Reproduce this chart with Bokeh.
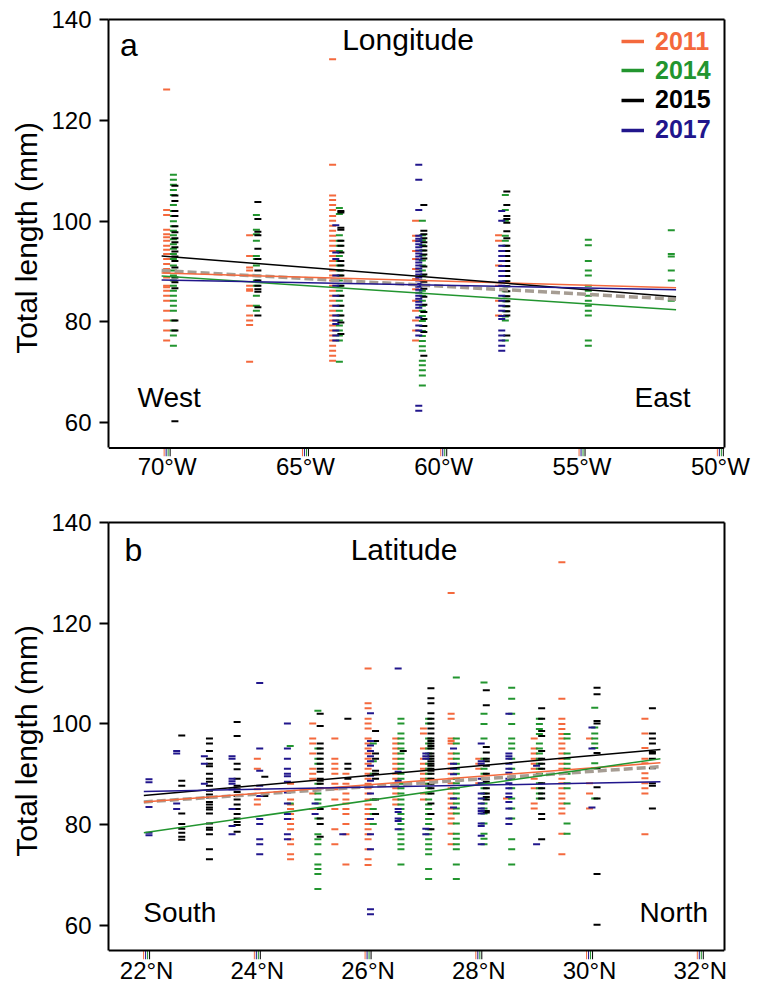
from bokeh.plotting import figure
from bokeh.models import (Range1d, LinearAxis, FixedTicker, Span, Label, Legend,
                          LegendItem, ColumnDataSource)
from bokeh.layouts import column
from bokeh.transform import dodge
from bokeh.embed import file_html
from bokeh.resources import INLINE

# ---------------------------------------------------------------- data
YEARS = ["2011", "2014", "2015", "2017"]
Y_TICKS = [60, 80, 100, 120, 140]
LON_TICKS = [-70, -65, -60, -55, -50]
LON_TICK_LABELS = ["70°W", "65°W", "60°W", "55°W", "50°W"]
LAT_TICKS = [22, 24, 26, 28, 30, 32]
LAT_TICK_LABELS = ["22°N", "24°N", "26°N", "28°N", "30°N", "32°N"]

# ---- panel a: total length by longitude (negative = °W)
LON_ST_2011 = [-70, -67, -64, -61, -58]
LON_TL_2011 = [
    [126.1, 102.2, 101.2, 98.3, 97.4, 96.8, 96.1, 95.1, 94.3, 93.5, 92.5, 91.5, 90.5, 89.8,
     88.8, 87.2, 86.9, 86.2, 85.2, 84.2, 82.2, 80.3, 78.3, 76.3],
    [97.2, 93.1, 90.8, 90.2, 89.2, 87.2, 86.5, 86.2, 83.2, 81.3, 80.3, 79.4, 72.1],
    [132.1, 111.2, 105.1, 104.2, 103.2, 102.2, 101.0, 100.1, 99.1, 98.1, 97.1, 96.1, 95.1,
     94.1, 93.1, 92.1, 91.2, 90.2, 89.2, 88.2, 87.2, 86.2, 85.2, 84.2, 83.2, 82.2, 81.3,
     80.3, 79.3, 78.3, 77.3, 76.3, 75.3, 74.3, 73.3, 72.3],
    [100.1, 97.1, 96.1, 94.1, 92.5, 90.5, 88.5, 86.5, 84.2, 82.2, 80.3, 78.3, 76.3],
    [97.2, 96.1, 91.2, 87.2, 84.2, 81.3],
]
LON_ST_2014 = [-70, -67, -64, -61, -58, -55, -52]
LON_TL_2014 = [
    [109.2, 108.2, 107.2, 106.2, 105.2, 103.2, 102.0, 101.0, 100.0, 99.0, 98.1, 97.2, 96.4,
     95.4, 94.5, 93.5, 92.5, 91.2, 90.2, 89.2, 88.2, 87.2, 86.2, 85.2, 84.2, 83.2, 82.2,
     80.3, 78.3, 77.3, 75.3],
    [101.2, 98.3, 97.4, 96.1, 93.1, 92.5, 91.2, 89.2, 88.2, 87.2, 85.2, 83.2, 82.2],
    [102.6, 101.4, 97.2, 96.1, 95.1, 94.1, 93.1, 92.1, 91.2, 90.2, 89.2, 88.2, 87.2, 86.2,
     85.2, 84.2, 83.2, 82.2, 81.3, 80.3, 79.3, 78.3, 77.3, 76.3, 72.1],
    [100.1, 97.2, 96.2, 95.2, 94.2, 93.2, 92.2, 91.2, 90.2, 89.2, 88.2, 87.2, 86.2, 85.2,
     84.2, 83.2, 82.2, 81.2, 80.2, 79.2, 78.2, 77.2, 76.2, 75.2, 74.3, 72.3, 71.4, 70.4,
     69.4, 67.4],
    [105.2, 102.2, 100.1, 97.1, 96.1, 95.1, 94.1, 93.1, 92.1, 91.1, 90.1, 89.1, 88.1, 87.1,
     86.1, 85.1, 84.1, 83.1, 82.1, 81.1, 80.3, 76.3],
    [96.3, 95.2, 92.1, 90.2, 89.2, 87.2, 86.2, 85.2, 84.2, 83.2, 82.2, 81.3, 76.3, 75.3],
    [98.2, 93.5, 93.0, 90.2, 88.2, 84.2],
]
LON_ST_2015 = [-70, -67, -64, -61, -58]
LON_TL_2015 = [
    [107.0, 105.1, 104.0, 102.0, 101.0, 99.0, 97.8, 96.6, 95.8, 94.8, 94.0, 93.0, 92.1,
     90.8, 88.8, 87.9, 86.7, 80.3, 78.3, 60.3],
    [103.8, 100.4, 97.9, 97.2, 94.5, 92.5, 90.2, 88.2, 87.2, 86.5, 86.0, 82.9, 81.3],
    [102.0, 101.7, 98.7, 98.3, 96.1, 95.1, 93.8, 92.1, 91.2, 90.2, 89.2, 87.2, 85.2, 83.2,
     81.3, 79.9, 77.6],
    [103.2, 98.1, 97.4, 96.6, 95.8, 95.0, 94.2, 93.4, 92.6, 91.0, 89.4, 88.0, 86.6, 85.0,
     83.4, 82.0, 80.6, 79.2, 78.0, 73.3],
    [105.9, 103.2, 101.0, 100.4, 99.7, 98.0, 96.6, 95.1, 94.1, 93.1, 92.1, 91.1, 90.1, 89.1,
     88.1, 87.1, 86.1, 85.1, 84.1, 83.1, 82.1, 81.3, 77.3],
]
LON_ST_2017 = [-64, -61, -58]
LON_TL_2017 = [
    [99.2, 93.8, 92.5, 89.2, 88.2, 87.2, 85.2, 83.2, 81.3, 80.3, 79.6, 78.3, 77.3, 76.3],
    [111.2, 108.2, 102.2, 97.1, 96.5, 96.0, 95.4, 94.8, 94.2, 93.6, 93.0, 92.4, 91.8, 91.2,
     90.6, 90.0, 89.4, 88.8, 88.2, 87.6, 87.0, 86.4, 85.8, 85.2, 84.6, 84.0, 83.4, 82.8,
     80.9, 79.3, 78.3, 77.3, 63.4, 62.4],
    [102.0, 100.1, 95.1, 94.1, 93.1, 92.1, 91.1, 90.1, 89.1, 88.1, 87.2, 85.2, 84.2, 83.2,
     82.2, 81.2, 80.6, 78.3, 77.3, 76.3, 75.3, 74.3],
]
LON_FIT_X = [-70.2, -51.6]
LON_FIT_2011 = [89.7, 86.8]
LON_FIT_2014 = [89.1, 82.4]
LON_FIT_2015 = [93.1, 85.0]
LON_FIT_2017 = [88.3, 86.4]
LON_FIT_ALL = [90.2, 84.5]

# ---- panel b: total length by latitude (°N)
LAT_ST_2011 = [24.0, 24.6, 25.0, 25.4, 25.6, 26.0, 26.5, 27.0, 27.5, 28.0, 28.5, 29.0, 29.5,
               30.0, 31.0]
LAT_TL_2011 = [
    [93.1, 91.1, 87.0, 85.0, 84.0],
    [88.1, 85.0, 84.0, 83.1, 82.1, 81.1, 80.1, 79.1, 77.1, 76.1, 74.1, 73.1],
    [100.1, 97.1, 96.1, 94.1, 91.1, 90.1, 89.1, 86.2, 83.1],
    [97.1, 93.1, 92.1, 91.1, 90.1, 88.1, 87.0, 85.0, 83.1, 79.1, 76.1],
    [90.1, 88.1, 86.2, 85.0, 84.2, 83.1, 82.1, 80.1, 78.1, 72.1],
    [111.0, 104.1, 103.1, 101.0, 100.1, 99.1, 97.1, 96.1, 95.1, 94.1, 93.1, 92.1, 91.1, 90.1,
     89.1, 88.1, 87.2, 86.2, 85.0, 84.0, 83.1, 82.1, 81.1, 80.1, 79.1, 78.1, 77.1, 75.1,
     73.1, 72.0],
    [97.1, 96.1, 95.1, 94.1, 93.1, 92.1, 91.1, 90.1, 89.1, 88.1, 87.2, 86.2, 85.0, 84.0],
    [99.1, 98.1, 95.1, 93.1, 92.1, 91.1, 90.1, 89.1, 88.1, 86.2, 85.0],
    [126.0, 102.0, 101.0, 97.1, 96.6, 96.1, 94.1, 93.1, 92.1, 91.1, 90.1, 89.1, 88.2, 87.2,
     86.2, 85.2, 84.2, 83.2, 82.2, 81.2, 80.2, 78.2, 76.1],
    [93.1, 92.1, 91.1, 88.2],
    [85.2],
    [97.1, 95.1, 94.1, 93.1, 92.1, 91.1, 89.1, 87.2, 84.2, 83.2],
    [132.1, 105.0, 101.0, 100.0, 99.0, 98.0, 97.1, 96.1, 95.1, 94.1, 93.1, 92.1, 91.1, 90.1,
     89.1, 88.2, 87.2, 86.2, 85.2, 84.2, 83.2, 82.2, 78.2, 74.1],
    [97.1, 88.2, 86.2, 83.2],
    [101.0, 98.1, 95.2, 93.1, 92.2, 90.2, 89.2, 88.2, 87.2, 86.2, 78.1],
]
LAT_ST_2014 = [24.5, 25.0, 26.0, 26.5, 27.0, 27.5, 28.0, 28.5, 29.0, 29.5, 30.0]
LAT_TL_2014 = [
    [95.6, 84.2],
    [102.6, 95.1, 93.1, 92.1, 88.1, 86.2, 85.0, 84.2, 81.2, 78.1, 77.1, 76.1, 74.1, 72.1,
     71.2, 70.2, 67.2],
    [96.1, 92.6, 90.1, 85.0, 83.1, 82.1, 80.1],
    [101.0, 100.1, 98.1, 97.1, 96.1, 95.1, 94.1, 93.1, 92.1, 91.1, 90.1, 89.1, 88.1, 87.2,
     86.2, 85.0, 84.0, 83.1, 82.1, 81.1, 80.1, 79.1, 78.1, 77.1, 76.1, 75.1, 72.1],
    [101.0, 100.1, 97.1, 96.1, 95.1, 94.1, 93.1, 92.1, 91.1, 90.1, 89.1, 88.1, 87.2, 86.2,
     85.0, 84.0, 83.1, 82.1, 81.1, 80.1, 79.1, 78.1, 77.1, 76.1, 75.1, 74.1, 71.2, 69.2],
    [109.2, 97.1, 96.1, 94.1, 93.1, 92.1, 91.1, 90.1, 89.1, 88.2, 87.2, 86.2, 85.2, 84.2,
     83.2, 82.2, 80.2, 78.2, 77.2, 76.1, 75.1, 72.1, 69.2],
    [108.2, 102.0, 100.0, 97.1, 93.1, 91.1, 90.1, 89.1, 88.2, 87.2, 86.2, 85.2, 84.2, 83.2,
     82.2, 80.2, 78.2, 77.2, 76.1],
    [107.2, 105.0, 102.0, 100.0, 97.1, 96.1, 95.1, 93.1, 91.1, 89.1, 87.2, 85.2, 83.2, 81.2,
     77.1, 75.1, 72.1],
    [101.0, 100.0, 99.0, 98.0, 96.1, 95.1, 94.1, 93.1, 92.1, 91.1, 90.1, 88.2, 87.2, 86.2,
     85.2],
    [98.0, 97.1, 94.1, 93.1, 92.1, 91.1, 90.1, 88.2, 87.2, 84.2, 80.2, 78.2],
    [103.2, 99.3, 98.1, 97.1, 96.1, 95.2, 92.2, 91.2, 85.2],
]
LAT_ST_2015 = [22.5, 23.0, 23.5, 24.0, 25.0, 25.5, 26.0, 26.5, 27.0, 28.0, 29.0, 30.0, 31.0]
LAT_TL_2015 = [
    [97.7, 88.7, 87.7, 82.2, 80.1, 79.2, 78.4, 77.6, 77.0],
    [97.1, 96.1, 94.6, 93.1, 92.1, 91.6, 90.1, 89.1, 88.5, 87.7, 86.7, 86.0, 85.4, 84.5,
     84.0, 83.4, 83.0, 82.2, 80.2, 79.4, 79.0, 78.1, 75.1, 73.1],
    [100.4, 97.6, 92.1, 91.0, 89.1, 87.7, 87.0, 86.5, 85.7, 85.0, 84.0, 83.1, 82.1, 81.2,
     80.5, 79.9, 78.6],
    [89.5, 85.7],
    [102.0, 99.6, 96.1, 95.1, 94.1, 93.1, 92.1, 91.1, 90.5, 89.1, 88.7, 88.1, 87.2, 83.1,
     81.2, 80.1, 77.6],
    [101.0, 92.1, 91.1, 89.1],
    [98.6, 96.6, 94.1, 93.1, 90.7, 90.1, 89.1, 85.0, 82.1],
    [94.6],
    [107.1, 105.1, 104.1, 102.1, 101.0, 100.1, 99.1, 98.1, 97.1, 96.6, 96.1, 95.6, 95.1,
     94.1, 93.6, 93.1, 92.6, 92.1, 91.7, 91.1, 90.7, 90.1, 89.1, 88.1, 87.2, 86.2, 84.2,
     82.1, 79.1],
    [106.7, 103.7, 95.4, 94.3, 93.1, 92.6, 91.7, 90.1, 89.1, 88.5, 87.2, 86.2, 85.5, 85.0,
     82.7, 82.4],
    [103.1, 101.0, 98.6, 97.6, 94.6, 93.1, 92.1, 91.1, 88.2, 87.2, 86.2, 85.2, 82.1, 81.1,
     77.1],
    [107.2, 105.9, 100.6, 100.1, 94.2, 91.2, 87.4, 85.2, 70.2, 60.1],
    [103.1, 98.1, 97.1, 96.1, 94.4, 94.1, 93.1, 91.2, 88.2, 87.7, 83.2],
]
LAT_ST_2017 = [22.0, 22.5, 23.0, 23.5, 24.0, 24.5, 25.0, 25.5, 26.0, 26.5, 27.0, 27.5, 28.0,
               28.5, 29.0, 30.0]
LAT_TL_2017 = [
    [89.0, 88.4, 83.5, 78.4, 77.9],
    [94.6, 94.1, 84.2, 83.1],
    [93.6, 92.1, 88.1],
    [93.6, 93.1, 89.1, 88.6, 88.1, 87.0, 83.1, 79.7, 78.1],
    [108.1, 95.1, 90.7, 87.7, 85.7, 81.1, 80.1, 77.1, 76.1, 74.1],
    [100.1, 95.1, 93.1, 91.1, 90.1, 89.6, 88.5, 86.4, 84.2, 82.1, 81.1, 78.1, 77.1],
    [84.2, 82.1],
    [78.1],
    [102.1, 96.6, 95.7, 94.6, 93.6, 92.6, 91.7, 89.7, 88.7, 86.2, 81.1, 78.1, 75.1, 63.2,
     62.2],
    [111.0, 90.5, 88.7, 83.1, 82.5, 81.2, 80.7, 79.1],
    [94.1, 93.6, 93.1, 79.2, 78.1],
    [95.1, 92.1, 91.1, 90.0, 87.2, 85.2, 83.4],
    [96.1, 92.6, 92.1, 89.1, 88.2, 86.2, 85.2, 84.2, 83.2, 82.7, 82.2, 80.2, 79.7, 77.8,
     76.1],
    [102.0, 94.1, 93.6, 93.1, 92.1, 91.1, 90.3, 89.1, 88.2, 87.2, 86.2, 85.5, 84.5, 83.2,
     81.2, 80.1],
    [91.7, 76.1],
    [99.3, 95.1, 83.4],
]
LAT_FIT_X = [21.95, 31.28]
LAT_FIT_2011 = [84.5, 92.3]
LAT_FIT_2014 = [78.4, 93.1]
LAT_FIT_2015 = [85.8, 94.9]
LAT_FIT_2017 = [86.6, 88.5]
LAT_FIT_ALL = [84.5, 91.5]

# ---------------------------------------------------------------- style
FONT = "Liberation Sans"
COLORS = {"2011": "#F4693D", "2014": "#22952F", "2015": "#000000", "2017": "#21168C"}
GREY = "#A69D93"
BOX_BOTTOM, BOX_TOP = 55, 140
WIDTH = 760


def flatten(stations, values):
    xs, ys = [], []
    for s, vals in zip(stations, values):
        xs += [s] * len(vals)
        ys += list(vals)
    return xs, ys


def make_panel(height, x_lo, x_hi, y_lo, borders, ticks, tick_labels, label_standoff,
               groups, year_shift, rug_shift, fit_x, fits, fit_all, texts):
    bl, br, bt, bb = borders
    p = figure(width=WIDTH, height=height, x_range=Range1d(x_lo, x_hi),
               y_range=Range1d(y_lo, BOX_TOP), output_backend="svg",
               toolbar_location=None, min_border_left=bl, min_border_right=br,
               min_border_top=bt, min_border_bottom=bb, outline_line_color=None)
    p.grid.visible = False

    # left axis
    ya = p.yaxis[0]
    ya.ticker = FixedTicker(ticks=Y_TICKS)
    ya.bounds = (BOX_BOTTOM, BOX_TOP)
    ya.axis_line_width = 2
    ya.axis_line_color = "black"
    ya.major_tick_out = 9
    ya.major_tick_in = 0
    ya.major_tick_line_width = 2
    ya.minor_tick_line_color = None
    ya.major_label_text_font = FONT
    ya.major_label_text_font_size = "24px"
    ya.major_label_text_color = "black"
    ya.major_label_standoff = 8
    ya.axis_label = "Total length (mm)"
    ya.axis_label_text_font = FONT
    ya.axis_label_text_font_size = "30px"
    ya.axis_label_text_font_style = "normal"
    ya.axis_label_text_color = "black"
    ya.axis_label_standoff = 5

    # bottom axis: labels only
    xa = p.xaxis[0]
    xa.ticker = FixedTicker(ticks=ticks)
    xa.major_label_overrides = {t: s for t, s in zip(ticks, tick_labels)}
    xa.axis_line_color = None
    xa.major_tick_line_color = None
    xa.minor_tick_line_color = None
    xa.major_tick_out = 0
    xa.major_tick_in = 0
    xa.major_label_standoff = label_standoff
    xa.major_label_text_font = FONT
    xa.major_label_text_font_size = "24px"
    xa.major_label_text_color = "black"

    # box edges (right and top as bare axis lines, bottom as a span)
    for side, bounds in (("right", (BOX_BOTTOM, BOX_TOP)), ("above", "auto")):
        ax = LinearAxis(bounds=bounds, ticker=FixedTicker(ticks=[]),
                        major_tick_line_color=None, minor_tick_line_color=None,
                        major_label_standoff=0, major_tick_out=0, major_tick_in=0,
                        axis_line_width=2, axis_line_color="black")
        p.add_layout(ax, side)
    p.add_layout(Span(location=BOX_BOTTOM, dimension="width", line_color="black",
                      line_width=2))

    # rug ticks below the box, one per year
    rug_src = ColumnDataSource(dict(x=ticks))
    for yr in ["2011", "2017", "2014", "2015"]:
        p.segment(x0=dodge("x", rug_shift[yr]), x1=dodge("x", rug_shift[yr]),
                  y0=y_lo, y1=BOX_BOTTOM, source=rug_src,
                  line_color=COLORS[yr], line_width=1)

    # data dashes
    for yr in YEARS:
        st, tl = groups[yr]
        xs, ys = flatten(st, tl)
        src = ColumnDataSource(dict(x=xs, y=ys))
        p.scatter(x=dodge("x", year_shift[yr]), y="y", source=src, marker="dash",
                  size=7, line_color=COLORS[yr], line_width=2.0)

    # fitted lines
    p.line(fit_x, fit_all, line_color=GREY, line_width=3.5, line_dash="9 4")
    for yr in YEARS:
        p.line(fit_x, fits[yr], line_color=COLORS[yr], line_width=1.5)

    for (txt, x, y, size, align) in texts:
        p.add_layout(Label(x=x, y=y, text=txt, text_font=FONT, text_font_size=size,
                           text_align=align, text_baseline="alphabetic",
                           text_color="black"))
    return p


# ---------------------------------------------------------------- panel a
PXA = 27.795   # px per degree in panel a
p1 = make_panel(
    height=490, x_lo=-72.12, x_hi=-49.85, y_lo=53.31, borders=(105, 36, 19, 34),
    ticks=LON_TICKS, tick_labels=LON_TICK_LABELS, label_standoff=-4,
    groups={"2011": (LON_ST_2011, LON_TL_2011), "2014": (LON_ST_2014, LON_TL_2014),
            "2015": (LON_ST_2015, LON_TL_2015), "2017": (LON_ST_2017, LON_TL_2017)},
    year_shift={"2011": -0.5 / PXA, "2017": 2.7 / PXA, "2014": 6.3 / PXA, "2015": 7.8 / PXA},
    rug_shift={"2011": -3 / PXA, "2017": -1 / PXA, "2014": 1 / PXA, "2015": 3 / PXA},
    fit_x=LON_FIT_X,
    fits={"2011": LON_FIT_2011, "2014": LON_FIT_2014, "2015": LON_FIT_2015,
          "2017": LON_FIT_2017},
    fit_all=LON_FIT_ALL,
    texts=[("a", -71.70, 135.0, "32px", "left"),
           ("Longitude", -61.29, 136.0, "30px", "center"),
           ("West", -71.07, 65.1, "28px", "left"),
           ("East", -51.08, 65.1, "28px", "right")],
)

# legend (panel a), one legend per year so each label keeps its colour
LEG_CENTERS = [41, 70, 99.5, 129.5]   # page y of row centres
FRAME_BOTTOM_A = 456
NAN = float("nan")
for yr, cy in zip(YEARS, LEG_CENTERS):
    r = p1.line(x=[NAN], y=[NAN], line_color=COLORS[yr], line_width=3.5)
    leg = Legend(items=[LegendItem(label=yr, renderers=[r])],
                 location=(513, FRAME_BOTTOM_A - cy - 15),
                 border_line_color=None, background_fill_alpha=0, padding=0, margin=0,
                 spacing=0, glyph_width=23, glyph_height=30, label_height=30,
                 label_standoff=11, label_text_font=FONT, label_text_font_size="25px",
                 label_text_font_style="bold", label_text_color=COLORS[yr])
    p1.add_layout(leg)

# ---------------------------------------------------------------- panel b
PXB = 55.55
p2 = make_panel(
    height=496, x_lo=21.312, x_hi=32.437, y_lo=53.21, borders=(108, 34, 32, 27),
    ticks=LAT_TICKS, tick_labels=LAT_TICK_LABELS, label_standoff=-3,
    groups={"2011": (LAT_ST_2011, LAT_TL_2011), "2014": (LAT_ST_2014, LAT_TL_2014),
            "2015": (LAT_ST_2015, LAT_TL_2015), "2017": (LAT_ST_2017, LAT_TL_2017)},
    year_shift={"2011": 0.0, "2017": 2.4 / PXB, "2014": 5.2 / PXB, "2015": 7.5 / PXB},
    rug_shift={"2011": -3 / PXB, "2017": -1 / PXB, "2014": 1 / PXB, "2015": 3 / PXB},
    fit_x=LAT_FIT_X,
    fits={"2011": LAT_FIT_2011, "2014": LAT_FIT_2014, "2015": LAT_FIT_2015,
          "2017": LAT_FIT_2017},
    fit_all=LAT_FIT_ALL,
    texts=[("b", 21.60, 134.6, "32px", "left"),
           ("Latitude", 26.65, 134.6, "30px", "center"),
           ("South", 21.94, 62.6, "28px", "left"),
           ("North", 32.14, 62.6, "28px", "right")],
)

layout = column(p1, p2)
open("out.html", "w").write(file_html(layout, INLINE))
